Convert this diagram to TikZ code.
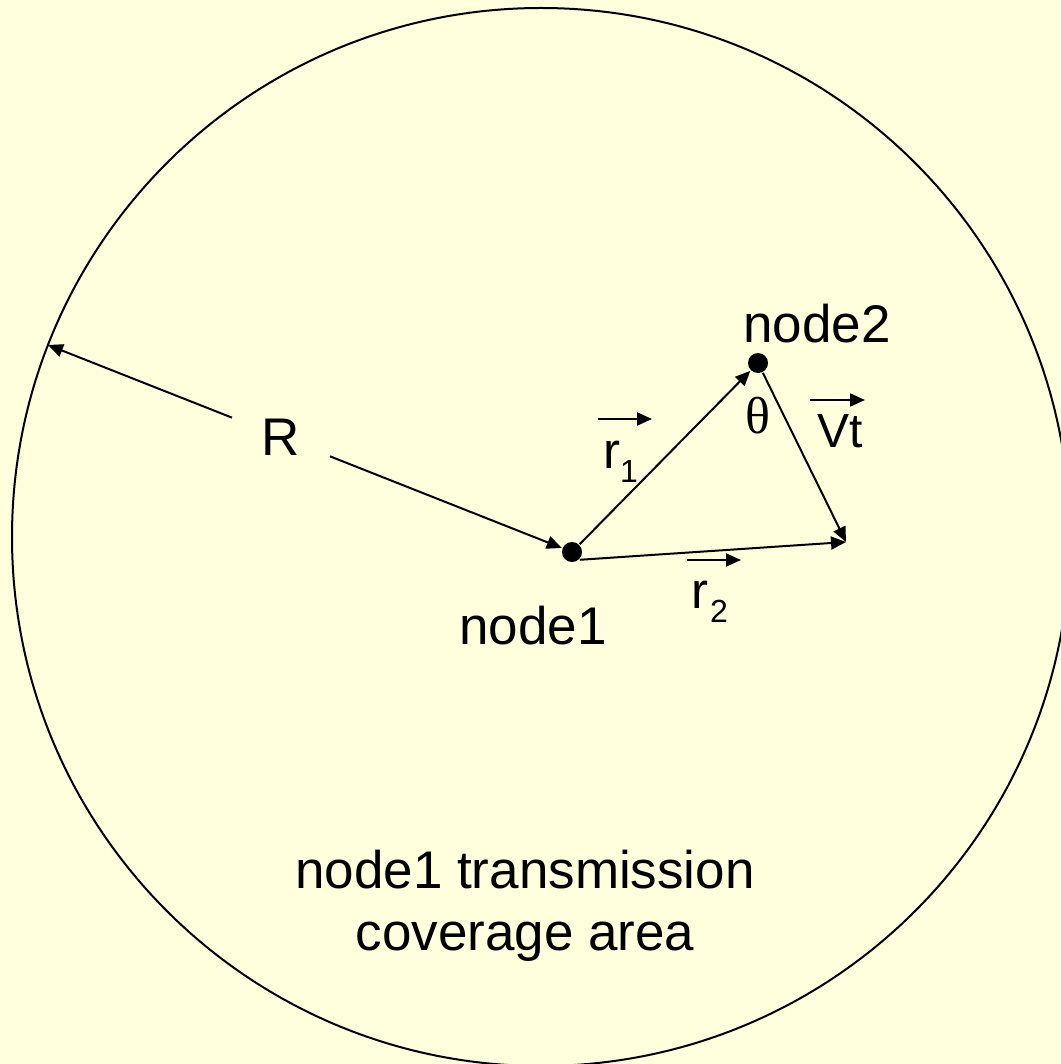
\documentclass[tikz,border=0pt]{standalone}
\usepackage{fontspec}
\setmainfont{Liberation Sans}
\newfontfamily\greekserif{Liberation Serif}
\usetikzlibrary{arrows.meta}
\definecolor{bgyellow}{HTML}{FFFFDD}
\begin{document}
\begin{tikzpicture}[x=1pt,y=-1pt,line width=2pt,
  tipped/.style={-{Triangle[length=15pt,width=13pt]}},
  biglbl/.style={font=\fontsize{53}{62}\selectfont, inner sep=0pt, anchor=base},
  veclbl/.style={font=\fontsize{51}{58}\selectfont, inner sep=0pt, anchor=base west},
  sublbl/.style={font=\fontsize{32}{36}\selectfont, inner sep=0pt, anchor=base west},
  dotnode/.style={circle, fill=black, minimum size=20pt, inner sep=0pt}]
\fill[bgyellow] (0,0) rectangle (1060,1064);
\useasboundingbox (0,0) rectangle (1060,1064);
% coverage circle
\draw (541,537) circle[radius=529];
% nodes
\node[dotnode] (n1) at (572,552) {};
\node[dotnode] (n2) at (758,363) {};
\coordinate (rim) at (48,345);
\coordinate (p) at (846,542);
\node[biglbl, anchor=center, minimum width=96pt, minimum height=40pt] (R) at (281,437) {R};
% connectors
\draw[tipped] (R) -- (rim);
\draw[tipped] (R) -- (n1);
\draw[tipped] (n1) -- (n2);
\draw[tipped] (n2) -- (p);
\draw[tipped] (n1.south east) -- (p);
% labels
\node[biglbl] (t2) at (817,342) {node2};
\node[biglbl] (t1) at (533,644) {node1};
\node[font=\greekserif\fontsize{52}{58}\selectfont, inner sep=0pt, anchor=base] (th) at (758,433) {θ};
\node[veclbl, font=\fontsize{48}{54}\selectfont] (vt) at (816,447) {Vt};
\draw[tipped] (810,400) -- (865,400);
\node[veclbl] (r1) at (602,468) {r};
\node[sublbl] (s1) at (619,482) {1};
\draw[tipped] (598,419) -- (652,419);
\node[veclbl] (r2) at (690,608) {r};
\node[sublbl] (s2) at (709,622) {2};
\draw[tipped] (687,560) -- (741,560);
\node[biglbl] (cov1) at (525,888) {node1 transmission};
\node[biglbl] (cov2) at (525,950) {coverage area};
\end{tikzpicture}
\end{document}
